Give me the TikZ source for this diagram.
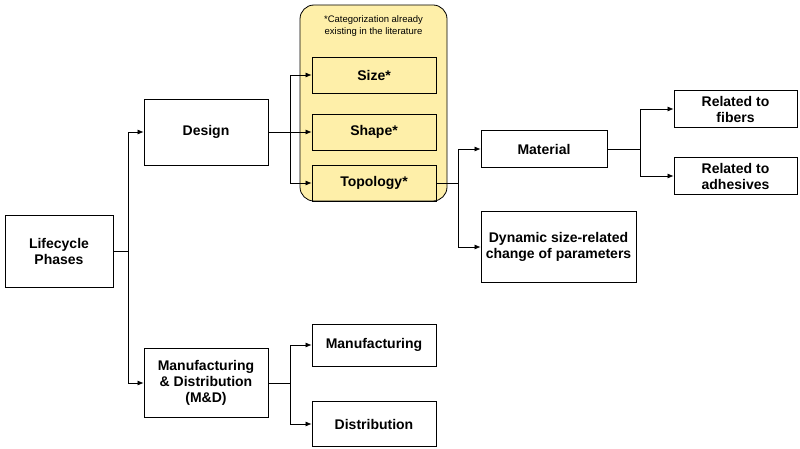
\documentclass[tikz,border=0pt]{standalone}
\usepackage{fontspec}
\setmainfont{Liberation Sans}
\usetikzlibrary{arrows.meta}
\begin{document}
\begin{tikzpicture}[x=1pt,y=-1pt,
  box/.style={draw=black,line width=0.8pt,fill=white,font=\bfseries\fontsize{14}{16}\selectfont,align=center,inner sep=0pt},
  arr/.style={-{Latex[length=6pt,width=5pt]},line width=0.7pt},
  ln/.style={line width=0.7pt}]
\useasboundingbox (0,0) rectangle (800,449);
\node[draw=black,line width=0.8pt,fill=yellow!25!white!90!orange,rounded corners=14pt,minimum width=147pt,minimum height=196pt] (yb) at (373.5,103) {};
\node[font=\fontsize{9.5}{12}\selectfont,align=center] (note) at (373.5,26) {*Categorization already\\existing in the literature};
\node[box,minimum width=108pt,minimum height=72pt] (lp) at (59,251) {Lifecycle\\Phases};
\node[box,minimum width=124pt,minimum height=66pt] (des) at (206,132) {Design};
\node[box,minimum width=124pt,minimum height=69pt] (md) at (206,383) {Manufacturing\\\& Distribution\\(M\&D)};
\node[box,minimum width=124pt,minimum height=36pt,fill=none] (size) at (374,75) {Size*};
\node[box,minimum width=124pt,minimum height=36pt,fill=none] (shape) at (374,132) {Shape*};
\node[box,minimum width=124pt,minimum height=36pt,fill=none] (topo) at (374,183) {Topology*};
\node[box,minimum width=126pt,minimum height=37pt] (mat) at (544,149) {Material};
\node[box,minimum width=155pt,minimum height=71pt] (dyn) at (558.5,247) {Dynamic size-related\\change of parameters};
\node[box,minimum width=123pt,minimum height=37pt] (fib) at (735.5,109) {Related to\\fibers};
\node[box,minimum width=123pt,minimum height=37pt] (adh) at (735.5,176) {Related to\\adhesives};
\node[box,minimum width=124pt,minimum height=42pt] (man) at (374,345) {Manufacturing};
\node[box,minimum width=124pt,minimum height=45pt] (dis) at (374,424) {Distribution};
% connectors
\coordinate (j1) at (128,251);
\draw[ln] (lp.east) -- (j1);
\draw[arr] (j1) |- (des.west);
\draw[arr] (j1) |- (md.west);
\coordinate (j2) at (290,132);
\draw[arr] (des.east) -- (shape.west);
\draw[arr] (j2) |- (size.west);
\draw[arr] (j2) |- (topo.west);
\coordinate (j3) at (458,183);
\draw[ln] (topo.east) -- (j3);
\draw[arr] (j3) |- (mat.west);
\draw[arr] (j3) |- (dyn.west);
\coordinate (j4) at (640,149);
\draw[ln] (mat.east) -- (j4);
\draw[arr] (j4) |- (fib.west);
\draw[arr] (j4) |- (adh.west);
\coordinate (j5) at (290,383);
\draw[ln] (md.east) -- (j5);
\draw[arr] (j5) |- (man.west);
\draw[arr] (j5) |- (dis.west);
\end{tikzpicture}
\end{document}
